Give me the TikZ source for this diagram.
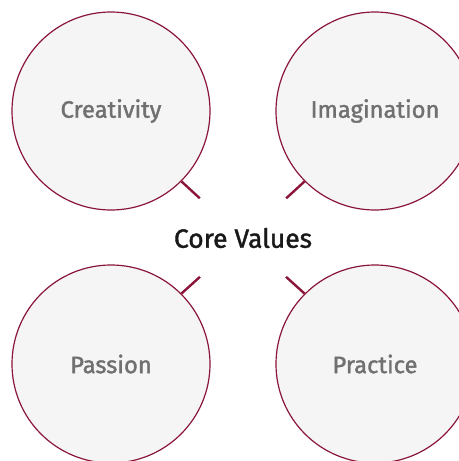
\documentclass[tikz,border=0pt]{standalone}
\usepackage{fontspec}
\setmainfont{Fira Sans}[UprightFeatures={FakeBold=1.5}]
\usepackage{xcolor}
\usetikzlibrary{calc}

\definecolor{wine}{RGB}{138,21,56}
\definecolor{disc}{RGB}{245,245,245}
\definecolor{labelgray}{RGB}{112,112,112}

\begin{document}
\begin{tikzpicture}[
  x=0.75pt, y=-0.75pt,
  value/.style={circle, draw=wine, line width=0.9pt, fill=disc, minimum size=148.5pt, inner sep=0pt, text=labelgray, font=\fontsize{17.8}{20}\selectfont},
  hub/.style={text=black!90, font=\fontsize{19.8}{22}\selectfont},
  link/.style={draw=wine, line width=1.8pt}
]
  \useasboundingbox (0,0) rectangle (459,461);
  \clip (0,0) rectangle (459,461);
  \node[hub] (core) at (243,238) {Core Values};
  \node[value] (tl) at (111,111) {Creativity};
  \node[value] (tr) at (375,111) {Imagination};
  \node[value] (bl) at (111,364) {Passion};
  \node[value] (br) at (375,364) {Practice};
  % short ticks pointing at the hub
  \coordinate (tlend) at ($(tl.-45)!18.75pt!(core)$);
  \coordinate (trend) at ($(tr.-135)!18.75pt!(core)$);
  \coordinate (blend) at ($(bl.45)!18.75pt!(core)$);
  \coordinate (brend) at ($(br.135)!18.75pt!(core)$);
  \draw[link] (tl.-45) -- (tlend);
  \draw[link] (tr.-135) -- (trend);
  \draw[link] (bl.45) -- (blend);
  \draw[link] (br.135) -- (brend);
\end{tikzpicture}
\end{document}
